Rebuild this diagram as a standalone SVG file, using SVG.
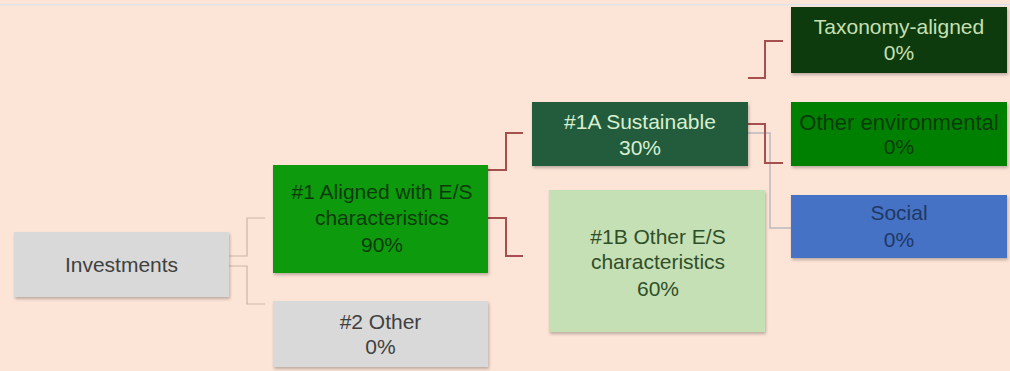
<svg xmlns="http://www.w3.org/2000/svg" width="1010" height="371" viewBox="0 0 1010 371">
<style>
text{font-family:"Liberation Sans",Arial,sans-serif;font-size:21px;text-anchor:middle}
.box{filter:url(#sh)}
.c1{fill:none;stroke:#C9B6A6;stroke-width:1.2}
.c2{fill:none;stroke:#A5504E;stroke-width:2}
.c3{fill:none;stroke:#B9B8C4;stroke-width:1.5}
</style>
<defs>
<filter id="sh" x="-5%" y="-10%" width="110%" height="125%">
<feDropShadow dx="1" dy="2" stdDeviation="1.5" flood-color="#000" flood-opacity="0.25"/>
</filter>
</defs>
<rect width="1010" height="371" fill="#FCE4D6"/>
<rect x="0" y="4" width="1010" height="1.5" fill="#DDE3EA"/>
<g id="connectors">
<polyline class="c1" points="229,256 247,256 247,218 265,218"/>
<polyline class="c1" points="229,266 247,266 247,304 265,304"/>
<polyline class="c2" points="488,170 506,170 506,133 523,133"/>
<polyline class="c2" points="488,218 506,218 506,256 523,256"/>
<polyline class="c2" points="748,78 765,78 765,41 783,41"/>
<polyline class="c3" points="748,133 770,133 770,228 791,228"/>
<polyline class="c2" points="748,124 765,124 765,163 783,163"/>
</g>
<g id="investments">
<rect class="box" x="14" y="232" width="215" height="65" fill="#D9D9D9"/>
<text x="121.5" y="272" fill="#404040">Investments</text>
</g>
<g id="aligned">
<rect class="box" x="273" y="165" width="215" height="108" fill="#0A9A0A"/>
<text x="382" y="199" fill="#0D3A0D">#1 Aligned with E/S</text>
<text x="382" y="225" fill="#0D3A0D">characteristics</text>
<text x="382" y="252" fill="#0D3A0D">90%</text>
</g>
<g id="other2">
<rect class="box" x="273" y="301" width="215" height="66" fill="#D9D9D9"/>
<text x="380.5" y="329" fill="#404040">#2 Other</text>
<text x="380.5" y="354" fill="#404040">0%</text>
</g>
<g id="sustainable">
<rect class="box" x="532" y="102" width="216" height="64" fill="#215C3C"/>
<text x="640" y="129" fill="#D8EFD0">#1A Sustainable</text>
<text x="640" y="155" fill="#D8EFD0">30%</text>
</g>
<g id="otheres">
<rect class="box" x="549" y="190" width="216" height="142" fill="#C5E0B4"/>
<text x="658" y="244" fill="#2F4F2A">#1B Other E/S</text>
<text x="658" y="269" fill="#2F4F2A">characteristics</text>
<text x="658" y="296" fill="#2F4F2A">60%</text>
</g>
<g id="taxonomy">
<rect class="box" x="791" y="7" width="216" height="66" fill="#073B0A"/>
<text x="899" y="34" fill="#C6E0B4">Taxonomy-aligned</text>
<text x="899" y="60" fill="#C6E0B4">0%</text>
</g>
<g id="otherenv">
<rect class="box" x="791" y="102" width="216" height="64" fill="#028002"/>
<text x="899" y="130" fill="#0B3B0B" style="font-size:22px">Other environmental</text>
<text x="899" y="154" fill="#0B3B0B">0%</text>
</g>
<g id="social">
<rect class="box" x="791" y="195" width="216" height="63" fill="#4472C4"/>
<text x="899" y="220" fill="#1F3864">Social</text>
<text x="899" y="247" fill="#1F3864">0%</text>
</g>
</svg>
